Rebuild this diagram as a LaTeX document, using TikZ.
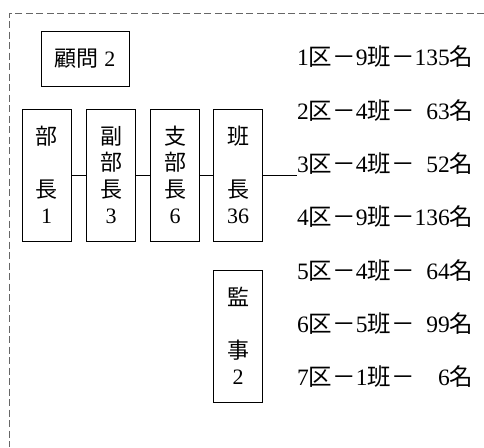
\documentclass[tikz,border=0pt]{standalone}
\usepackage{fontspec}
\setmainfont{Liberation Serif}
\newfontfamily\cjk{Noto Sans CJK JP}
\newcommand\kurow[3]{#1{\cjk 区}{\cjk －}#2{\cjk 班}{\cjk －}\makebox[1.5em][r]{#3}{\cjk 名}}
\begin{document}
\begin{tikzpicture}[x=1pt,y=-1pt,
  box/.style={draw, line width=0.7pt, minimum width=49pt, minimum height=132pt,
    align=center, inner sep=0pt, font=\fontsize{22}{26.5}\selectfont},
  topbox/.style={draw, line width=0.7pt, minimum width=88pt, minimum height=55pt,
    inner sep=0pt, font=\fontsize{22}{26}\selectfont},
  row/.style={anchor=west, inner sep=0pt, font=\fontsize{23.5}{27}\selectfont},
  link/.style={line width=0.6pt},
  frame/.style={draw=black!60, line width=0.7pt, dash pattern=on 7pt off 3.5pt}]
\useasboundingbox (0,0) rectangle (484,447);
\draw[frame] (484,13) -- (9,13) -- (9,447);

\node[topbox] (komon) at (85,58.5) {{\cjk 顧問} 2};

\node[box] (bucho)  at (46.5,175) {{\cjk 部}\\\mbox{}\\{\cjk 長}\\1};
\node[box] (fuku)   at (111,175)  {{\cjk 副}\\{\cjk 部}\\{\cjk 長}\\3};
\node[box] (shibu)  at (175,175)  {{\cjk 支}\\{\cjk 部}\\{\cjk 長}\\6};
\node[box] (hancho) at (238,175)  {{\cjk 班}\\\mbox{}\\{\cjk 長}\\36};
\node[box] (kanji)  at (238,336)  {{\cjk 監}\\\mbox{}\\{\cjk 事}\\2};

\node[row] (r1) at (297,57)    {\kurow{1}{9}{135}};
\node[row] (r2) at (297,110.3) {\kurow{2}{4}{63}};
\node[row] (r3) at (297,163.7) {\kurow{3}{4}{52}};
\node[row] (r4) at (297,217)   {\kurow{4}{9}{136}};
\node[row] (r5) at (297,270.3) {\kurow{5}{4}{64}};
\node[row] (r6) at (297,323.7) {\kurow{6}{5}{99}};
\node[row] (r7) at (297,377)   {\kurow{7}{1}{6}};

\draw[link] (bucho.east) -- (fuku.west);
\draw[link] (fuku.east) -- (shibu.west);
\draw[link] (shibu.east) -- (hancho.west);
\draw[link] (hancho.east) -- (hancho.east -| r3.west);
\end{tikzpicture}
\end{document}
